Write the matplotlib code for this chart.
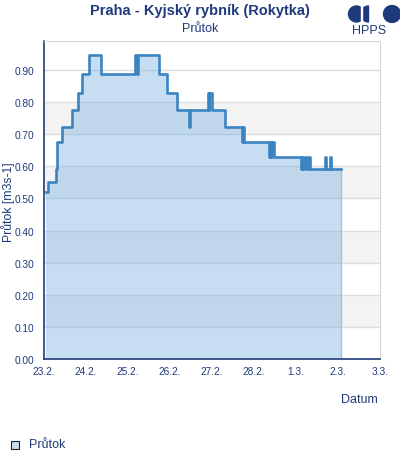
import matplotlib
matplotlib.use("Agg")
import matplotlib.pyplot as plt
from matplotlib.patches import Circle, Wedge, Rectangle

plt.rcParams["font.family"] = ["Liberation Sans", "DejaVu Sans"]

# Data (days since 23.2., flow m3/s), step series
t = [0.05, 0.10, 0.28, 0.30, 0.32, 0.42, 0.67, 0.82, 0.91, 1.07, 1.36, 2.17, 2.21, 2.24,
     2.73, 2.94, 3.17, 3.46, 3.48, 3.91, 3.93, 3.94, 4.00, 4.32, 4.72, 4.74, 4.76,
     5.35, 5.37, 5.40, 5.43, 5.47, 6.11, 6.14, 6.17, 6.22, 6.25, 6.30, 6.33,
     6.68, 6.71, 6.82, 6.84, 7.06]
q = [0.521, 0.552, 0.590, 0.630, 0.675, 0.723, 0.774, 0.829, 0.887, 0.945, 0.887, 0.945, 0.887, 0.945,
     0.887, 0.829, 0.774, 0.723, 0.774, 0.829, 0.774, 0.829, 0.774, 0.723, 0.675, 0.723, 0.675,
     0.630, 0.675, 0.630, 0.675, 0.630, 0.590, 0.630, 0.590, 0.630, 0.590, 0.630, 0.590,
     0.630, 0.590, 0.630, 0.590, 0.590]
xtick_labels = ["23.2.", "24.2.", "25.2.", "26.2.", "27.2.", "28.2.", "1.3.", "2.3.", "3.3."]
ytick_vals = [0.0, 0.1, 0.2, 0.3, 0.4, 0.5, 0.6, 0.7, 0.8, 0.9]

navy = "#1f3a7a"
W, H = 400, 460
fig = plt.figure(figsize=(W / 100, H / 100), dpi=100)
ax = fig.add_axes([44 / W, 1 - 360 / H, 336 / W, 318 / H])
ax.set_xlim(0, 8)
ax.set_ylim(0, 0.99)

# alternating bands
for lo in [0.1, 0.3, 0.5, 0.7]:
    ax.axhspan(lo, lo + 0.1, color="#f3f3f3", zorder=0, lw=0)
for v in ytick_vals[1:]:
    ax.axhline(v, color="#dddddd", lw=1, zorder=1)

ax.fill_between(t, q, 0, step="post", color="#77b0e0", alpha=0.42, lw=0, zorder=2)
ax.step(t, q, where="post", color="#3a84c2", lw=1.9, zorder=3)
ax.plot([t[-1], t[-1]], [0, q[-1]], color="#9cc4e8", lw=1, zorder=2)

ax.set_xticks(range(len(xtick_labels)))
ax.set_xticklabels(xtick_labels)
ax.set_yticks(ytick_vals)
ax.set_yticklabels([f"{v:.2f}" for v in ytick_vals])
ax.tick_params(axis="both", length=0, labelsize=7.3, colors=navy, pad=7)
ax.tick_params(axis="x", pad=5)
for s in ["top", "right"]:
    ax.spines[s].set_color("#d8d8d8")
for s in ["left", "bottom"]:
    ax.spines[s].set_color(navy)
    ax.spines[s].set_linewidth(1.2)

fig.text(8 / W, 1 - 202 / H, "Průtok [m3s-1]", rotation=90, ha="center", va="center",
         fontsize=8.8, color=navy)
fig.text(200 / W, 1 - 11 / H, "Praha - Kyjský rybník (Rokytka)", ha="center", va="center",
         fontsize=10.5, fontweight="bold", color=navy)
fig.text(200 / W, 1 - 29 / H, "Průtok", ha="center", va="center", fontsize=9, color=navy)
fig.text(378 / W, 1 - 400 / H, "Datum", ha="right", va="center", fontsize=9, color=navy)

# legend
fig.patches.append(Rectangle((11 / W, 1 - 450 / H), 8 / W, 8 / H, transform=fig.transFigure,
                             facecolor="#c6ddf1", edgecolor="#222222", lw=0.8))
fig.text(29 / W, 1 - 445 / H, "Průtok", ha="left", va="center", fontsize=9, color=navy)

# HPPS logo
lax = fig.add_axes([340 / W, 1 - 24 / H, 60 / W, 18 / H])
lax.set_xlim(0, 60)
lax.set_ylim(0, 18)
lax.set_aspect("equal")
lax.axis("off")
lax.add_patch(Circle((16.5, 9), 8, color=navy))
lax.add_patch(Wedge((28.5, 9), 8, 90, 270, color=navy))
lax.add_patch(Rectangle((20.5, 0), 1.0, 18, color="white"))
lax.add_patch(Circle((52, 9), 8.5, color=navy))
fig.text(369 / W, 1 - 31 / H, "HPPS", ha="center", va="center", fontsize=9, color=navy)

fig.savefig("out.png", dpi=100)
